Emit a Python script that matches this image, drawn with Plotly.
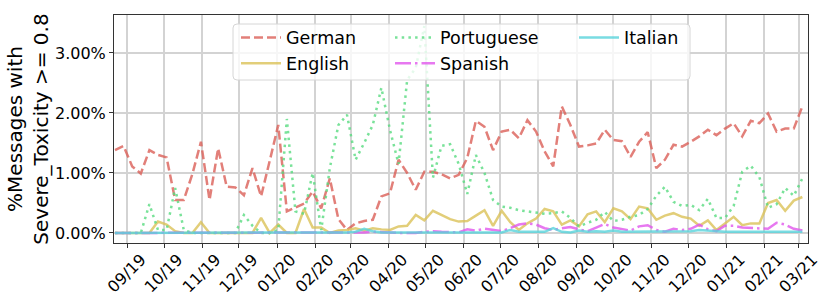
import plotly.graph_objects as go
import pandas as pd

# ---- data (percent of messages, weekly) ----
week_start = "2019-08-22"
n_weeks = 81

german = [1.38, 1.45, 1.11, 0.99, 1.38, 1.30, 1.26, 0.55, 0.55, 0.98,
          1.52, 0.55, 1.41, 0.77, 0.76, 0.63, 1.08, 0.61, 1.20, 1.80,
          0.36, 0.42, 0.49, 0.69, 0.41, 0.91, 0.23, 0.05, 0.16, 0.20,
          0.22, 0.61, 0.66, 1.22, 1.00, 0.72, 1.02, 1.02, 0.98, 0.91,
          0.97, 1.25, 1.87, 1.77, 1.38, 1.69, 1.72, 1.58, 1.88, 1.69,
          1.36, 1.11, 2.11, 1.80, 1.44, 1.46, 1.49, 1.72, 1.55, 1.53,
          1.27, 1.52, 1.68, 1.08, 1.22, 1.47, 1.44, 1.52, 1.61, 1.72,
          1.63, 1.74, 1.83, 1.61, 1.87, 1.83, 1.99, 1.69, 1.74, 1.74,
          2.11]

english = [0.00, 0.00, 0.00, 0.00, 0.00, 0.19, 0.14, 0.03, 0.00, 0.00,
           0.18, 0.00, 0.00, 0.00, 0.00, 0.00, 0.00, 0.25, 0.00, 0.14,
           0.00, 0.00, 0.40, 0.09, 0.09, 0.00, 0.04, 0.05, 0.08, 0.04,
           0.08, 0.06, 0.05, 0.11, 0.12, 0.30, 0.21, 0.37, 0.30, 0.23,
           0.19, 0.20, 0.29, 0.38, 0.12, 0.37, 0.18, 0.05, 0.16, 0.24,
           0.40, 0.36, 0.14, 0.21, 0.11, 0.31, 0.36, 0.18, 0.41, 0.36,
           0.23, 0.44, 0.41, 0.22, 0.29, 0.33, 0.27, 0.24, 0.12, 0.21,
           0.05, 0.16, 0.27, 0.13, 0.16, 0.16, 0.50, 0.55, 0.37, 0.54,
           0.60]

portuguese = [0.00, 0.00, 0.00, 0.00, 0.48, 0.05, 0.05, 0.75, 0.05, 0.00,
              0.00, 0.00, 0.00, 0.00, 0.00, 0.30, 0.12, 0.00, 0.00, 0.05,
              1.90, 0.36, 0.32, 1.00, 0.05, 1.08, 1.80, 1.97, 1.22, 1.50,
              1.80, 2.42, 1.72, 1.15, 2.55, 2.75, 3.45, 0.92, 1.45, 1.48,
              1.15, 0.65, 1.30, 1.00, 0.55, 0.44, 0.42, 0.38, 0.36, 0.35,
              0.32, 0.33, 0.36, 0.25, 0.11, 0.17, 0.22, 0.35, 0.20, 0.22,
              0.27, 0.30, 0.40, 0.62, 0.77, 0.52, 0.45, 0.47, 0.38, 0.57,
              0.25, 0.25, 0.45, 1.02, 1.12, 0.93, 0.42, 0.48, 0.75, 0.62,
              0.91]

spanish = [0.00, 0.00, 0.00, 0.00, 0.00, 0.00, 0.00, 0.00, 0.00, 0.00,
           0.00, 0.00, 0.00, 0.00, 0.00, 0.00, 0.00, 0.00, 0.00, 0.00,
           0.00, 0.00, 0.00, 0.00, 0.00, 0.00, 0.00, 0.00, 0.00, 0.01,
           0.02, 0.01, 0.00, 0.00, 0.00, 0.00, 0.02, 0.03, 0.02, 0.01,
           0.01, 0.06, 0.04, 0.07, 0.05, 0.03, 0.08, 0.14, 0.16, 0.14,
           0.08, 0.05, 0.08, 0.10, 0.06, 0.03, 0.09, 0.15, 0.09, 0.06,
           0.04, 0.11, 0.13, 0.05, 0.02, 0.07, 0.05, 0.07, 0.14, 0.06,
           0.03, 0.12, 0.12, 0.09, 0.08, 0.08, 0.07, 0.17, 0.14, 0.07,
           0.04]

italian = [0.00, 0.00, 0.00, 0.00, 0.00, 0.00, 0.00, 0.00, 0.00, 0.00,
           0.00, 0.00, 0.00, 0.00, 0.00, 0.00, 0.00, 0.00, 0.00, 0.00,
           0.00, 0.01, 0.01, 0.01, 0.01, 0.01, 0.01, 0.01, 0.02, 0.07,
           0.03, 0.01, 0.01, 0.01, 0.01, 0.01, 0.01, 0.02, 0.01, 0.01,
           0.01, 0.01, 0.01, 0.01, 0.01, 0.01, 0.05, 0.02, 0.02, 0.02,
           0.02, 0.08, 0.02, 0.01, 0.04, 0.02, 0.03, 0.02, 0.04, 0.02,
           0.02, 0.02, 0.02, 0.02, 0.02, 0.02, 0.02, 0.03, 0.05, 0.04,
           0.02, 0.02, 0.02, 0.02, 0.02, 0.02, 0.02, 0.02, 0.02, 0.02,
           0.02]

x_tick_dates = ["2019-09-01", "2019-10-01", "2019-11-01", "2019-12-01",
                "2020-01-01", "2020-02-01", "2020-03-01", "2020-04-01",
                "2020-05-01", "2020-06-01", "2020-07-01", "2020-08-01",
                "2020-09-01", "2020-10-01", "2020-11-01", "2020-12-01",
                "2021-01-01", "2021-02-01", "2021-03-01"]
x_tick_labels = ["09/19", "10/19", "11/19", "12/19", "01/20", "02/20",
                 "03/20", "04/20", "05/20", "06/20", "07/20", "08/20",
                 "09/20", "10/20", "11/20", "12/20", "01/21", "02/21",
                 "03/21"]
y_tick_vals = [0, 1, 2, 3]
y_tick_labels = ["0.00%", "1.00%", "2.00%", "3.00%"]

dates = pd.date_range(week_start, periods=n_weeks, freq="7D")

# ---- figure ----
L, R, T, B = 114, 22, 15, 58
W, H = 830, 301
pw, ph = W - L - R, H - T - B


def px_x(p):
    return (p - L) / pw


def px_y(p):
    return (H - B - p) / ph


series = [
    ("German", german, "rgba(219,95,87,0.8)", "9px,4px", "legend", "g1"),
    ("English", english, "rgba(219,194,87,0.8)", "solid", "legend", "g2"),
    ("Portuguese", portuguese, "rgba(87,219,128,0.8)", "2.5px,4.2px", "legend2", "g3"),
    ("Spanish", spanish, "rgba(225,86,236,0.8)", "16px,4px,2.5px,4px", "legend2", "g4"),
    ("Italian", italian, "rgba(87,211,219,0.8)", "solid", "legend3", "g5"),
]

fig = go.Figure()
for name, vals, color, dash, leg, grp in series:
    fig.add_trace(go.Scatter(
        x=dates, y=vals, mode="lines", name=name,
        line=dict(color=color, width=2.5, dash=dash),
        legend=leg, legendgroup=grp,
    ))

# legend frame (semi-transparent, above lines)
x0, x1 = px_x(233), px_x(690)
y0, y1 = px_y(80), px_y(24)
rx, ry = 4 / pw, 4 / ph
path = (f"M{x0+rx},{y0} L{x1-rx},{y0} Q{x1},{y0} {x1},{y0+ry} "
        f"L{x1},{y1-ry} Q{x1},{y1} {x1-rx},{y1} L{x0+rx},{y1} "
        f"Q{x0},{y1} {x0},{y1-ry} L{x0},{y0+ry} Q{x0},{y0} {x0+rx},{y0} Z")
fig.add_shape(type="path", path=path, xref="paper", yref="paper",
              fillcolor="rgba(255,255,255,0.8)",
              line=dict(color="#d6d6d6", width=1), layer="above")

leg_common = dict(yanchor="top", xanchor="left", bgcolor="rgba(0,0,0,0)",
                  borderwidth=0, font=dict(size=17.5, color="black"),
                  itemwidth=40, tracegroupgap=0, traceorder="grouped",
                  y=px_y(19.5))

fig.update_layout(
    width=W, height=H,
    margin=dict(l=L, r=R, t=T, b=B, autoexpand=False),
    paper_bgcolor="white", plot_bgcolor="white",
    font=dict(family="DejaVu Sans", size=16, color="black"),
    showlegend=True,
    legend=dict(x=px_x(236), **leg_common),
    legend2=dict(x=px_x(390), **leg_common),
    legend3=dict(x=px_x(574), **leg_common),
)

fig.update_xaxes(
    type="date", range=["2019-08-21 04:00", "2021-03-08 14:00"],
    tickvals=x_tick_dates, ticktext=x_tick_labels, tickangle=-45,
    ticklabelshift=14, ticklabelstandoff=-4,
    ticks="outside", ticklen=4, tickcolor="#333", tickwidth=1,
    showgrid=True, gridcolor="#d3d3d3", gridwidth=1.5,
    showline=True, linecolor="#333", linewidth=1, mirror=True,
    zeroline=False, automargin=False, tickfont=dict(size=16),
)
fig.update_yaxes(
    range=[-0.167, 3.633], tickvals=y_tick_vals, ticktext=y_tick_labels,
    ticks="outside", ticklen=4, tickcolor="#333", tickwidth=1,
    showgrid=True, gridcolor="#d3d3d3", gridwidth=1.5,
    showline=True, linecolor="#333", linewidth=1, mirror=True,
    zeroline=False, automargin=False, tickfont=dict(size=16),
    title=dict(text="%Messages with<br>Severe_Toxicity >= 0.8",
               font=dict(size=20), standoff=0),
)

fig.write_html("out.html", config={"displayModeBar": False},
               post_script="document.body.style.margin='0';")
